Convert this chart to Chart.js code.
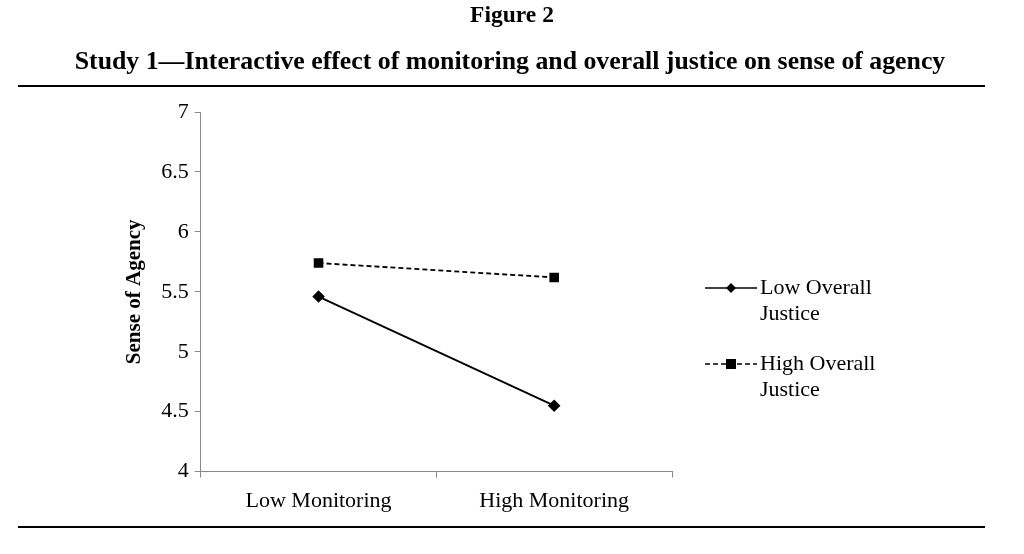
<!DOCTYPE html>
<html>
<head>
<meta charset="utf-8">
<script src="https://cdn.jsdelivr.net/npm/chart.js@4/dist/chart.umd.min.js"></script>
<style>
  body { margin: 0; background: #fff; }
  #box { position: relative; width: 1024px; height: 554px; }
</style>
</head>
<body>
<div id="box"><canvas id="myChart"></canvas></div>
<script>
// categorie e valori
const categories = ["Low Monitoring", "High Monitoring"];
const lowJustice = [5.46, 4.55];
const highJustice = [5.74, 5.62];
const seriesNames = [["Low Overall", "Justice"], ["High Overall", "Justice"]];
const titleLines = ["Figure 2", "Study 1\u2014Interactive effect of monitoring and overall justice on sense of agency"];

const serif = "'Liberation Serif', 'Times New Roman', serif";

// titolo, righe orizzontali e legenda disegnati a mano
const decorations = {
  id: "decorations",
  afterDraw(chart) {
    const ctx = chart.ctx;
    const area = chart.chartArea;
    ctx.save();
    ctx.fillStyle = "#000";
    ctx.textAlign = "center";
    ctx.textBaseline = "middle";
    ctx.font = "bold 23.5px " + serif;
    ctx.fillText(titleLines[0], 512, 16);
    ctx.font = "bold 25.8px " + serif;
    ctx.fillText(titleLines[1], 510, 62);

    ctx.strokeStyle = "#000";
    ctx.lineWidth = 2;
    ctx.beginPath();
    ctx.moveTo(18, 86); ctx.lineTo(985, 86);
    ctx.moveTo(18, 527); ctx.lineTo(985, 527);
    ctx.stroke();

    // legenda
    const x0 = area.right + 33;
    const rows = [288, 364];
    chart.data.datasets.forEach((ds, i) => {
      const y = rows[i];
      ctx.strokeStyle = "#000";
      ctx.lineWidth = 1.5;
      ctx.setLineDash(ds.borderDash || []);
      ctx.beginPath();
      ctx.moveTo(x0, y); ctx.lineTo(x0 + 52, y);
      ctx.stroke();
      ctx.setLineDash([]);
      ctx.fillStyle = "#000";
      const cx = x0 + 26;
      if (ds.pointStyle === "rectRot") {
        ctx.beginPath();
        ctx.moveTo(cx, y - 5); ctx.lineTo(cx + 5, y); ctx.lineTo(cx, y + 5); ctx.lineTo(cx - 5, y);
        ctx.closePath(); ctx.fill();
      } else {
        ctx.fillRect(cx - 5, y - 5, 10, 10);
      }
      ctx.textAlign = "left";
      ctx.font = "22px " + serif;
      ctx.fillText(seriesNames[i][0], x0 + 55, y);
      ctx.fillText(seriesNames[i][1], x0 + 55, y + 26);
    });
    ctx.restore();
  }
};

new Chart(document.getElementById("myChart"), {
  type: "line",
  data: {
    labels: categories,
    datasets: [
      {
        label: "Low Overall Justice",
        data: lowJustice,
        borderColor: "#000",
        backgroundColor: "#000",
        borderWidth: 1.8,
        pointStyle: "rectRot",
        pointRadius: 5,
        pointHoverRadius: 5,
        tension: 0
      },
      {
        label: "High Overall Justice",
        data: highJustice,
        borderColor: "#000",
        backgroundColor: "#000",
        borderWidth: 1.8,
        borderDash: [5, 3],
        pointStyle: "rect",
        pointRadius: 5.5,
        pointHoverRadius: 5.5,
        tension: 0
      }
    ]
  },
  options: {
    responsive: true,
    maintainAspectRatio: false,
    animation: false,
    layout: { padding: { top: 112, right: 352, bottom: 30, left: 114 } },
    plugins: {
      legend: { display: false },
      tooltip: { enabled: false }
    },
    scales: {
      x: {
        offset: true,
        grid: { offset: true, drawOnChartArea: false, drawTicks: true, tickLength: 6, color: "#888" },
        border: { color: "#888", width: 1 },
        ticks: { color: "#000", font: { family: serif, size: 22 }, padding: 10 }
      },
      y: {
        min: 4,
        max: 7,
        ticks: {
          stepSize: 0.5,
          color: "#000",
          font: { family: serif, size: 22 },
          padding: 6,
          callback: (v) => String(v)
        },
        grid: { drawOnChartArea: false, drawTicks: true, tickLength: 6, color: "#888" },
        border: { color: "#888", width: 1 },
        title: {
          display: true,
          text: "Sense of Agency",
          color: "#000",
          font: { family: serif, size: 21, weight: "bold" },
          padding: 8
        }
      }
    }
  },
  plugins: [decorations]
});
</script>
</body>
</html>
